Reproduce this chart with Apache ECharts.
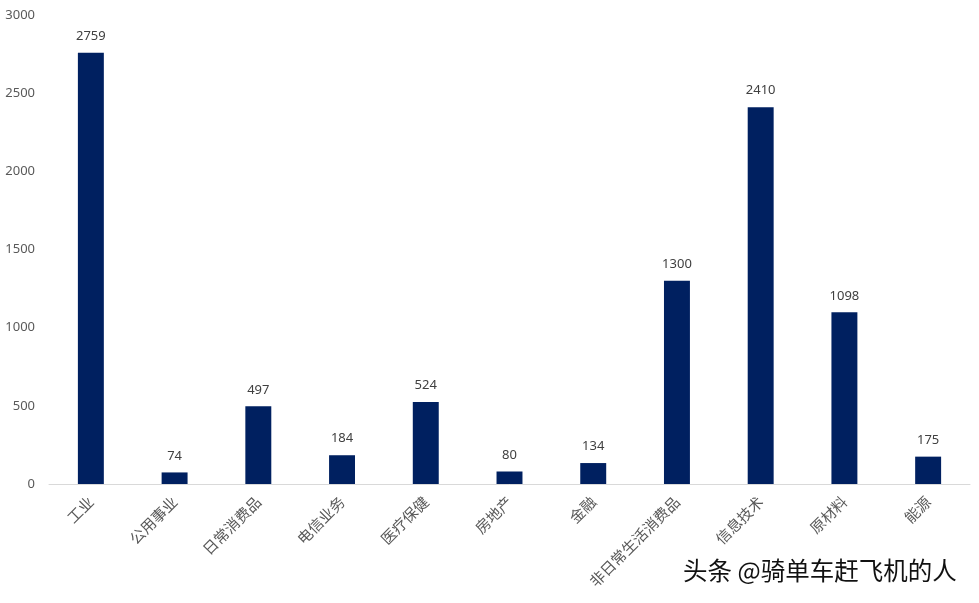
<!DOCTYPE html>
<html lang="zh">

<head>
    <meta charset="UTF-8">
    <title>行业分布</title>
    <script src="https://cdn.jsdelivr.net/npm/echarts@6/dist/echarts.min.js"></script>
    <style>
        * {
            margin: 0;
            padding: 0
        }

        html,
        body {
            width: 100%;
            height: 100%;
            background: #fff;
        }
    </style>
</head>

<body>
    <div id="main" style="width:979px;height:603px"></div>

    <script>
        var categories = ['工业', '公用事业', '日常消费品', '电信业务', '医疗保健', '房地产', '金融', '非日常生活消费品', '信息技术', '原材料', '能源'];
        var counts = [2759, 74, 497, 184, 524, 80, 134, 1300, 2410, 1098, 175];
        var yTicks = [0, 500, 1000, 1500, 2000, 2500, 3000];

        var chart = echarts.init(document.getElementById('main'));
        chart.setOption({
            animation: false,
            grid: {
                left: 49,
                right: 9,
                top: 15,
                bottom: 119
            },
            xAxis: {
                type: 'category',
                data: categories,
                axisLine: { lineStyle: { color: '#d9d9d9', width: 1 } },
                axisTick: { show: false },
                axisLabel: {
                    rotate: 45,
                    margin: 15,
                    color: '#595959',
                    fontSize: 15,
                    fontFamily: 'Noto Sans CJK SC'
                }
            },
            yAxis: {
                type: 'value',
                min: yTicks[0],
                max: yTicks[yTicks.length - 1],
                interval: 500,
                splitLine: { show: false },
                axisLine: { show: false },
                axisTick: { show: false },
                axisLabel: {
                    color: '#595959',
                    fontSize: 13,
                    margin: 14,
                    fontFamily: 'Noto Sans',
                    formatter: function (v) { return String(v); }
                }
            },
            series: [{
                type: 'bar',
                data: counts,
                barWidth: '31%',
                itemStyle: { color: '#002060' },
                label: {
                    show: true,
                    position: 'top',
                    distance: 10,
                    color: '#404040',
                    fontSize: 13,
                    fontFamily: 'Noto Sans'
                }
            }],
            graphic: [{
                type: 'text',
                left: 683,
                top: 558,
                style: {
                    text: '头条 @骑单车赶飞机的人',
                    fill: '#111',
                    font: '24.5px "Noto Sans CJK SC"',
                    textShadowColor: 'rgba(255,255,255,0.9)',
                    textShadowBlur: 3
                }
            }]
        });
    </script>
</body>

</html>
